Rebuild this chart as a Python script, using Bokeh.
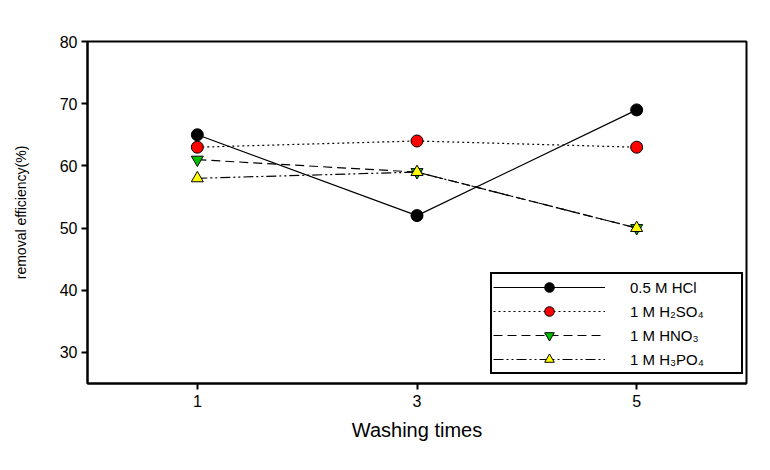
from bokeh.plotting import figure
from bokeh.models import Legend, LegendItem, FixedTicker, Range1d
from bokeh.embed import file_html
from bokeh.resources import INLINE

washing_times = [1, 3, 5]
hcl = [65, 52, 69]
h2so4 = [63, 64, 63]
hno3 = [61, 59, 50]
h3po4 = [58, 59, 50]

labels = ["0.5 M HCl", "1 M H\u2082SO\u2084", "1 M HNO\u2083", "1 M H\u2083PO\u2084"]
y_ticks = [30, 40, 50, 60, 70, 80]
x_ticks = [1, 3, 5]

FONT = "Liberation Sans"

p = figure(width=770, height=470, output_backend="svg", toolbar_location=None,
           x_range=Range1d(0, 6), y_range=Range1d(25, 80),
           min_border_left=87, min_border_right=24, min_border_top=41, min_border_bottom=87,
           frame_width=659, frame_height=342)
p.grid.visible = False
p.outline_line_color = "black"
p.outline_line_width = 2
p.outline_line_alpha = 1
p.background_fill_color = "white"
p.border_fill_color = "white"

for ax in (p.xaxis, p.yaxis):
    ax.axis_line_width = 2
    ax.axis_line_color = "black"
    ax.major_tick_line_width = 2
    ax.major_tick_out = 6
    ax.major_tick_in = 0
    ax.minor_tick_line_color = None
    ax.major_label_text_font = FONT
    ax.major_label_text_font_size = "16px"
    ax.major_label_text_color = "black"
    ax.axis_label_text_font = FONT
    ax.axis_label_text_font_style = "normal"
    ax.axis_label_text_color = "black"

p.xaxis.ticker = FixedTicker(ticks=x_ticks)
p.yaxis.ticker = FixedTicker(ticks=y_ticks)
p.xaxis.axis_label = "Washing times"
p.yaxis.axis_label = "removal efficiency(%)"
p.xaxis.axis_label_text_font_size = "20px"
p.yaxis.axis_label_text_font_size = "14px"
p.xaxis.major_label_standoff = 5
p.yaxis.major_label_standoff = 4
p.xaxis.axis_label_standoff = 9
p.yaxis.axis_label_standoff = 28

series = [
    (hcl, "solid", "circle", "black", 12),
    (h2so4, "2 3", "circle", "red", 12),
    (hno3, "9 5", "inverted_triangle", "#00c000", 12),
    (h3po4, "10 3 2 3 2 3", "triangle", "yellow", 12),
]

items = []
for (vals, dash, marker, color, size), lab in zip(series, labels):
    l = p.line(washing_times, vals, line_color="black", line_width=1.2, line_dash=dash)
    s = p.scatter(washing_times, vals, marker=marker, size=size, fill_color=color,
                  line_color="black", line_width=1)
    items.append(LegendItem(label=lab, renderers=[l, s]))

legend = Legend(items=items, location=(403, 9), orientation="vertical",
                glyph_width=112, glyph_height=24, label_height=20, spacing=0,
                label_standoff=25, label_width=110, padding=1, margin=0,
                border_line_color="black", border_line_width=2, border_line_alpha=1,
                background_fill_color="white", background_fill_alpha=1,
                label_text_font=FONT, label_text_font_size="15px",
                label_text_color="black")
p.add_layout(legend, "center")

open("out.html", "w").write(file_html(p, INLINE))
